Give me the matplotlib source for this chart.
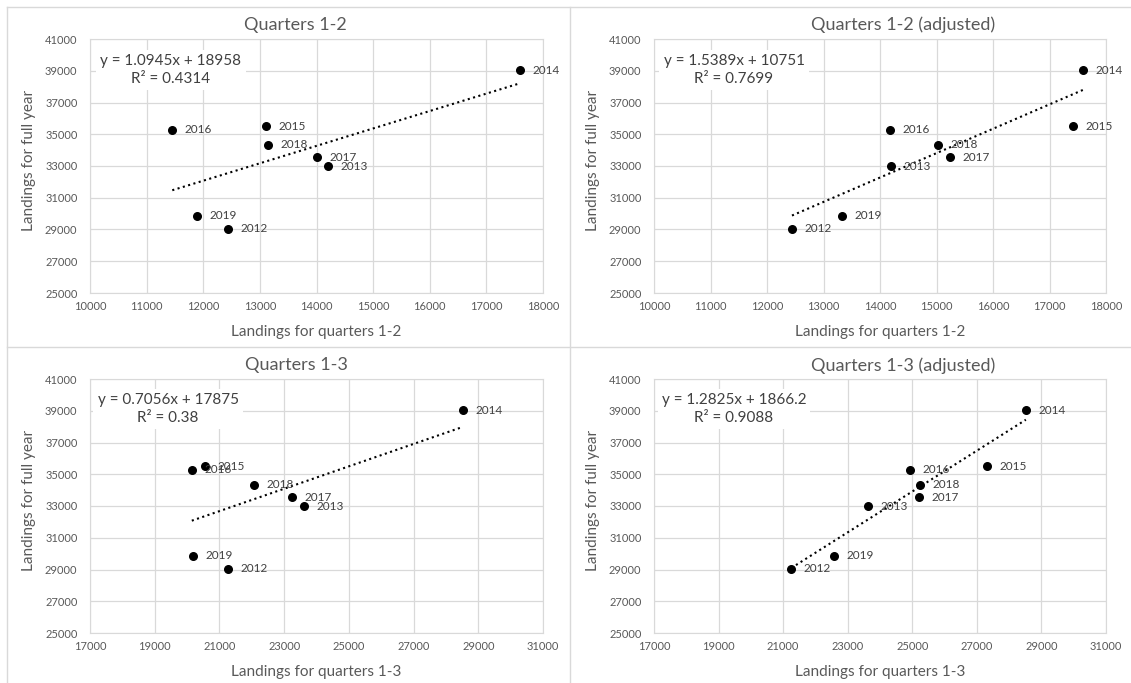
import numpy as np
import matplotlib.pyplot as plt
from matplotlib.lines import Line2D

plt.rcParams['font.family'] = ['Lato', 'DejaVu Sans']

years = [2012, 2013, 2014, 2015, 2016, 2017, 2018, 2019]
full_year = [29040, 32970, 39040, 35490, 35280, 33560, 34335, 29875]

q12 = [12442, 14195, 17598, 13104, 11453, 14015, 13148, 11893]
q12_adj = [12442, 14195, 17598, 17416, 14169, 15245, 15029, 13329]
q13 = [21252, 23620, 28518, 20547, 20146, 23235, 22075, 20190]
q13_adj = [21252, 23620, 28518, 27312, 24929, 25220, 25230, 22590]

titles = ["Quarters 1-2", "Quarters 1-2 (adjusted)", "Quarters 1-3", "Quarters 1-3 (adjusted)"]
xlabels = ["Landings for quarters 1-2", "Landings for quarters 1-2",
           "Landings for quarters 1-3", "Landings for quarters 1-3"]
equations = ["y = 1.0945x + 18958\nR² = 0.4314",
             "y = 1.5389x + 10751\nR² = 0.7699",
             "y = 0.7056x + 17875\nR² = 0.38",
             "y = 1.2825x + 1866.2\nR² = 0.9088"]

W, H = 1131, 683
grey = '#d9d9d9'
txt = '#595959'


def fx(px):
    return px / W


def fy(py):
    return 1 - py / H


def panel(x, title, xlabel, eq, xticks, left, top, right, bottom, title_x, title_y, eq_x, eq_y):
    ax = fig.add_axes([fx(left), fy(bottom), (right - left) / W, (bottom - top) / H])
    ax.scatter(x, full_year, s=30, color='black', zorder=3)
    coef = np.polyfit(x, full_year, 1)
    xs = np.array([min(x), max(x)])
    ax.plot(xs, np.polyval(coef, xs), ls=':', color='black', lw=1.5, zorder=2)
    for xi, yi, yr in zip(x, full_year, years):
        ax.annotate(str(yr), (xi, yi), xytext=(9, 0), textcoords='offset points',
                    va='center', ha='left', fontsize=8.5, color='#404040', zorder=4)
    ax.set_xlim(xticks[0], xticks[-1])
    ax.set_ylim(25000, 41000)
    ax.set_xticks(xticks)
    ax.set_yticks(np.arange(25000, 41001, 2000))
    ax.tick_params(length=0, labelsize=8, colors=txt, pad=6)
    ax.tick_params(axis='y', pad=9)
    ax.grid(color=grey, lw=0.9)
    ax.set_axisbelow(True)
    for s in ax.spines.values():
        s.set_color(grey)
    fig.text(fx(title_x), fy(title_y), title, ha='center', va='center', fontsize=13, color=txt)
    fig.text(fx((left + right) / 2), fy(bottom + 39), xlabel, ha='center', va='center',
             fontsize=11, color=txt)
    fig.text(fx(left - 61), fy((top + bottom) / 2 - 6), "Landings for full year", rotation=90,
             ha='center', va='center', fontsize=11, color=txt)
    fig.text(fx(eq_x), fy(eq_y), eq, ha='center', va='center', multialignment='center',
             fontsize=11, color='#404040', linespacing=1.35,
             bbox=dict(facecolor='white', edgecolor='none', pad=3))
    return ax


fig = plt.figure(figsize=(W / 100, H / 100), dpi=100)

x12 = np.arange(10000, 18001, 1000)
x13 = np.arange(17000, 31001, 2000)

panel(q12, titles[0], xlabels[0], equations[0], x12, 90, 39, 543, 293, 295, 25, 171, 70)
panel(q12_adj, titles[1], xlabels[1], equations[1], x12, 654, 39, 1106, 293, 903, 25, 734, 70)
panel(q13, titles[2], xlabels[2], equations[2], x13, 90, 379, 543, 633, 296, 365, 168, 409)
panel(q13_adj, titles[3], xlabels[3], equations[3], x13, 654, 379, 1106, 633, 903, 366, 734, 409)

# chart borders
fig.add_artist(Line2D([fx(6.5), 1], [fy(7), fy(7)], color=grey, lw=1))
fig.add_artist(Line2D([fx(6.5), fx(6.5)], [fy(7), 0], color=grey, lw=1))
fig.add_artist(Line2D([fx(570), fx(570)], [fy(7), 0], color=grey, lw=1))
fig.add_artist(Line2D([fx(6.5), 1], [fy(347), fy(347)], color=grey, lw=1))

fig.savefig('out.png', dpi=100, facecolor='white')
